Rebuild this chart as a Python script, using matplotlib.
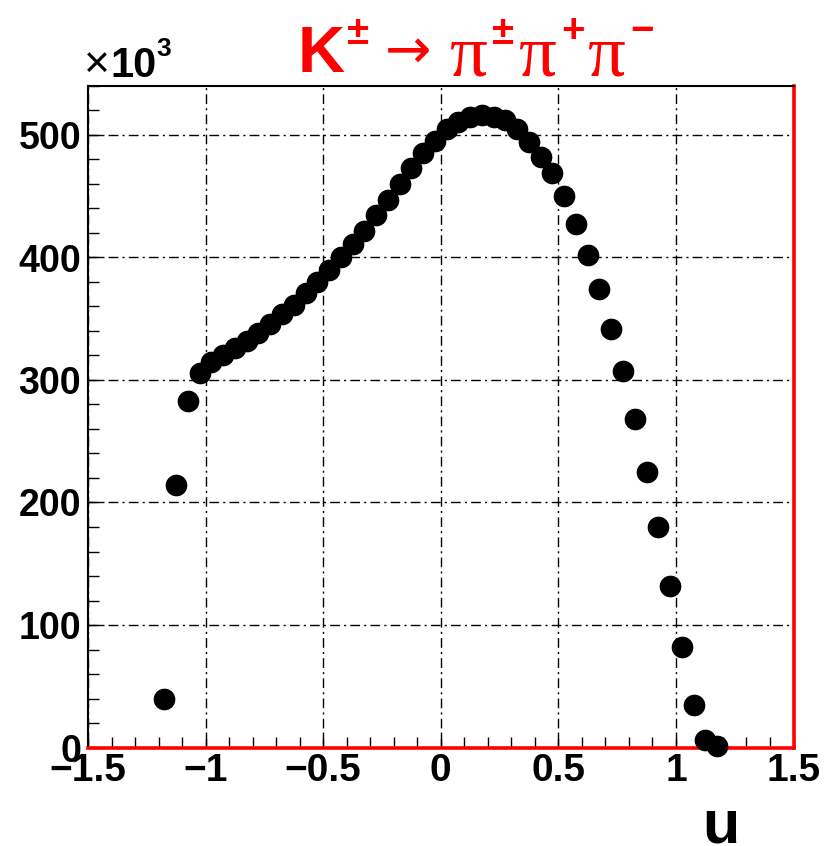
import matplotlib
matplotlib.use("Agg")
import matplotlib.pyplot as plt
from matplotlib.ticker import MultipleLocator

W, H = 826, 846

# bin centres of u and event counts (in units of 10^3)
u_centres = [-1.175, -1.125, -1.075, -1.025, -0.975, -0.925, -0.875, -0.825,
             -0.775, -0.725, -0.675, -0.625, -0.575, -0.525, -0.475, -0.425,
             -0.375, -0.325, -0.275, -0.225, -0.175, -0.125, -0.075, -0.025,
             0.025, 0.075, 0.125, 0.175, 0.225, 0.275, 0.325, 0.375,
             0.425, 0.475, 0.525, 0.575, 0.625, 0.675, 0.725, 0.775,
             0.825, 0.875, 0.925, 0.975, 1.025, 1.075, 1.125, 1.175]
counts_k = [40, 214, 283, 306, 315, 320, 326, 332,
            338, 346, 354, 361, 371, 380, 390, 400,
            411, 422, 435, 447, 460, 473, 485, 495,
            505, 511, 515, 516, 515, 512, 505, 494,
            482, 469, 450, 427, 402, 374, 342, 307,
            268, 225, 180, 132, 82, 35, 6, 1]

x_ticks = [-1.5, -1, -0.5, 0, 0.5, 1, 1.5]
x_tick_labels = ["\u22121.5", "\u22121", "\u22120.5", "0", "0.5", "1", "1.5"]
y_ticks = [0, 100, 200, 300, 400, 500]

plt.rcParams["font.family"] = ["Liberation Sans", "DejaVu Sans"]


def px(x, y):
    return x / W, 1 - y / H


fig = plt.figure(figsize=(W / 100, H / 100), dpi=100)
ax = fig.add_axes([88 / W, 1 - 747.5 / H, (793.5 - 88) / W, (747.5 - 86) / H])

ax.plot(u_centres, counts_k, linestyle="none", marker="o",
        markersize=14.6, color="black", zorder=3, clip_on=False)

ax.set_xlim(-1.5, 1.5)
ax.set_ylim(0, 540)

ax.set_xticks(x_ticks)
ax.set_xticklabels(x_tick_labels)
ax.set_yticks(y_ticks)
ax.xaxis.set_minor_locator(MultipleLocator(0.1))
ax.yaxis.set_minor_locator(MultipleLocator(20))

ax.tick_params(which="both", direction="in", top=False, right=False,
               color="black", width=1)
ax.tick_params(which="major", length=10)
ax.tick_params(which="minor", length=8)
ax.tick_params(axis="x", labelsize=28, pad=4)
ax.tick_params(axis="y", labelsize=27, pad=5)
for lab in ax.get_xticklabels() + ax.get_yticklabels():
    lab.set_fontweight("bold")

ax.grid(True, which="major", color="black", linewidth=1,
        linestyle=(0, (7, 3, 1.5, 3)))

ax.spines["left"].set_color("black")
ax.spines["top"].set_color("black")
ax.spines["left"].set_linewidth(1.5)
ax.spines["top"].set_linewidth(1.5)
ax.spines["right"].set_color("red")
ax.spines["bottom"].set_color("red")
ax.spines["right"].set_linewidth(2.6)
ax.spines["bottom"].set_linewidth(2.6)

# multiplier
fig.text(*px(84, 77), "\u00d7", fontsize=32, color="black", ha="left", va="baseline")
fig.text(*px(110, 77), "10", fontsize=30, fontweight="bold", color="black",
         ha="left", va="baseline")
fig.text(*px(156, 56), "3", fontsize=19, fontweight="bold", color="black",
         ha="left", va="baseline")

# title  K± -> pi± pi+ pi-
red = "red"
fig.text(*px(298, 72), "K", fontsize=47, fontweight="bold", color=red,
         ha="left", va="baseline")
fig.text(*px(347, 44), "\u00b1", fontsize=29, fontweight="bold", color=red,
         ha="left", va="baseline")
fig.text(*px(385, 68), "\u2192", fontsize=40, color=red, ha="left",
         va="baseline", family="DejaVu Sans")
for xp in (450, 519, 588):
    fig.text(*px(xp, 75), "\u03c0", fontsize=54, color=red, ha="left",
             va="baseline", family="Liberation Serif")
fig.text(*px(492, 44), "\u00b1", fontsize=29, fontweight="bold", color=red,
         ha="left", va="baseline")
fig.text(*px(561, 42), "+", fontsize=29, fontweight="bold", color=red,
         ha="left", va="baseline")
fig.text(*px(630, 42), "\u2212", fontsize=29, fontweight="bold", color=red,
         ha="left", va="baseline")

# axis title
fig.text(*px(702, 842), "u", fontsize=44, fontweight="bold", color="black",
         ha="left", va="baseline")

fig.savefig("out.png", dpi=100)
